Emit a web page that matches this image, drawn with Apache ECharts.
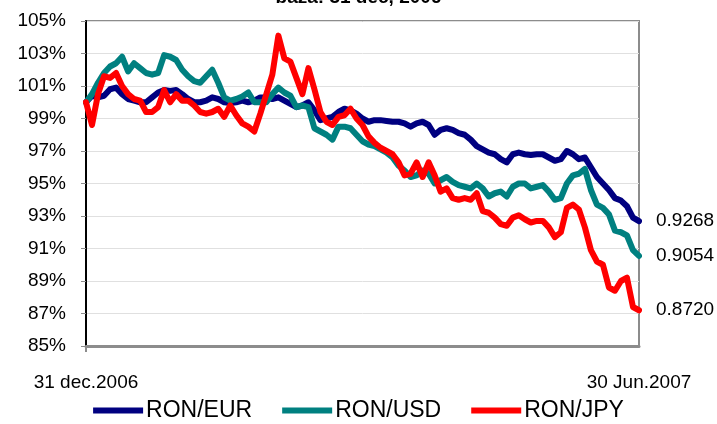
<!DOCTYPE html>
<html>
<head>
<meta charset="utf-8">
<script src="https://cdn.jsdelivr.net/npm/echarts@6/dist/echarts.min.js"></script>
<style>
  html, body { margin: 0; padding: 0; background: #fff; }
  #main { width: 717px; height: 424px; }
</style>
</head>
<body>
<div id="main"></div>
<script>
// index values, % of 31 dec 2006 level (about every 6th trading day)
const ronEur = [
  100.0, 100.4, 100.3, 100.4, 100.8, 100.9, 100.5, 100.2, 100.1, 100.0,
  100.0, 100.3, 100.6, 100.75, 100.7, 100.75, 100.5, 100.2, 100.0, 100.0,
  100.1, 100.3, 100.2, 100.0, 99.95, 100.0, 100.1, 100.0, 100.1, 100.3,
  100.3, 100.2, 100.3, 100.1, 99.9, 99.7, 99.8, 100.0, 99.5, 98.9,
  99.0, 99.1, 99.4, 99.6, 99.5, 99.3, 99.0, 98.8, 98.9, 98.9,
  98.85, 98.8, 98.8, 98.7, 98.5, 98.7, 98.8, 98.6, 98.0, 98.3,
  98.4, 98.3, 98.1, 98.0, 97.7, 97.3, 97.1, 96.9, 96.8, 96.5,
  96.3, 96.8, 96.9, 96.8, 96.75, 96.8, 96.8, 96.6, 96.4, 96.5,
  97.0, 96.8, 96.5, 96.6, 96.0, 95.4, 95.0, 94.6, 94.1, 93.95,
  93.6, 92.9, 92.68
];
const ronUsd = [
  100.0, 100.5, 101.2, 101.8, 102.2, 102.4, 102.8, 101.9, 102.4, 102.1,
  101.8, 101.7, 101.8, 102.9, 102.8, 102.6, 102.0, 101.6, 101.3, 101.2,
  101.6, 102.0, 101.2, 100.3, 100.1, 100.2, 100.35, 100.6, 100.0, 100.0,
  100.0, 100.5, 100.9, 100.6, 100.4, 99.7, 99.8, 99.7, 98.4, 98.2,
  98.0, 97.7, 98.5, 98.5, 98.4, 98.0, 97.6, 97.4, 97.3, 97.1,
  96.9, 96.6, 96.1, 95.8, 95.4, 95.5, 95.8, 95.6, 95.0, 95.2,
  95.4, 95.1, 94.9, 94.8, 94.7, 95.0, 94.7, 94.2, 94.4, 94.5,
  94.2, 94.8, 95.0, 95.0, 94.7, 94.8, 94.9, 94.5, 94.0, 94.1,
  95.0, 95.5, 95.6, 95.9, 94.6, 93.7, 93.5, 93.1, 92.1, 92.0,
  91.8, 90.9, 90.54
];
const ronJpy = [
  100.0, 98.6, 100.5, 101.6, 101.5, 101.8, 101.0, 100.5, 100.2, 100.1,
  99.4, 99.4, 99.7, 100.75, 100.0, 100.5, 100.1, 100.1, 99.8, 99.4,
  99.3, 99.4, 99.6, 99.1, 99.8, 99.2, 98.7, 98.5, 98.2, 99.3,
  100.5, 101.7, 104.1, 102.7, 102.5, 101.5, 100.5, 102.1, 100.8, 99.4,
  98.8, 98.6, 99.1, 99.2, 99.6, 99.0, 98.6, 97.9, 97.5, 97.2,
  97.0, 96.8, 96.3, 95.5, 95.6, 96.3, 95.4, 96.3, 95.5, 94.5,
  94.7, 94.1, 94.0, 94.1, 94.0, 94.4, 93.3, 93.2, 92.9, 92.5,
  92.4, 92.9, 93.05, 92.8, 92.6, 92.7, 92.7, 92.3, 91.7, 92.0,
  93.5, 93.7, 93.4, 92.3, 90.9, 90.2, 90.0, 88.6, 88.4, 89.0,
  89.2, 87.4, 87.2
];
const seriesNames = ['RON/EUR', 'RON/USD', 'RON/JPY'];
const seriesColors = ['#000080', '#008080', '#ff0000'];
const endLabels = ['0.9268', '0.9054', '0.8720'];
const dateLabels = ['31 dec.2006', '30 Jun.2007'];
const yMin = 85, yMax = 105, yStep = 2;

const categories = ronEur.map((v, i) => i);
const last = categories.length - 1;

const chart = echarts.init(document.getElementById('main'));
const font = 'Liberation Sans, Arial, sans-serif';

chart.setOption({
  animation: false,
  textStyle: { fontFamily: font },
  title: {
    text: 'baza: 31 dec, 2006',
    left: 'center',
    top: -17,
    textStyle: { fontFamily: font, fontSize: 19, fontWeight: 'bold', color: '#000' }
  },
  grid: {
    left: 86, right: 78, top: 21, bottom: 78,
    show: true, borderColor: '#8c8c8c', borderWidth: 2
  },
  legend: {
    bottom: -3,
    left: 'center',
    itemWidth: 50,
    itemHeight: 6,
    itemGap: 30,
    icon: 'rect',
    textStyle: { fontFamily: font, fontSize: 23, color: '#000', padding: [0, 0, 0, -2] },
    data: seriesNames
  },
  xAxis: {
    type: 'category',
    boundaryGap: false,
    data: categories,
    axisLine: { lineStyle: { color: '#8c8c8c', width: 3 } },
    axisTick: { show: true, interval: (i) => i === 0, length: 6, lineStyle: { color: '#8c8c8c', width: 2 } },
    axisLabel: {
      interval: 0,
      margin: 27,
      fontSize: 19,
      color: '#000',
      formatter: (v, i) => (i === 0 ? dateLabels[0] : i === last ? dateLabels[1] : '')
    },
    splitLine: { show: false }
  },
  yAxis: {
    type: 'value',
    min: yMin, max: yMax, interval: yStep,
    axisLine: { show: true, lineStyle: { color: '#000', width: 2 } },
    axisTick: { show: true, length: 5, lineStyle: { color: '#8c8c8c' } },
    axisLabel: { fontSize: 19, color: '#000', margin: 20, formatter: (v) => v + '%' },
    splitLine: { lineStyle: { color: '#e0e0e0', width: 1 } }
  },
  series: [ronEur, ronUsd, ronJpy].map((d, k) => ({
    name: seriesNames[k],
    type: 'line',
    data: d,
    symbol: 'none',
    color: seriesColors[k],
    lineStyle: { width: 6, color: seriesColors[k], cap: 'round', join: 'round' },
    endLabel: {
      show: true,
      formatter: () => endLabels[k],
      fontSize: 19,
      color: '#000',
      distance: 17
    }
  }))
});
</script>
</body>
</html>
